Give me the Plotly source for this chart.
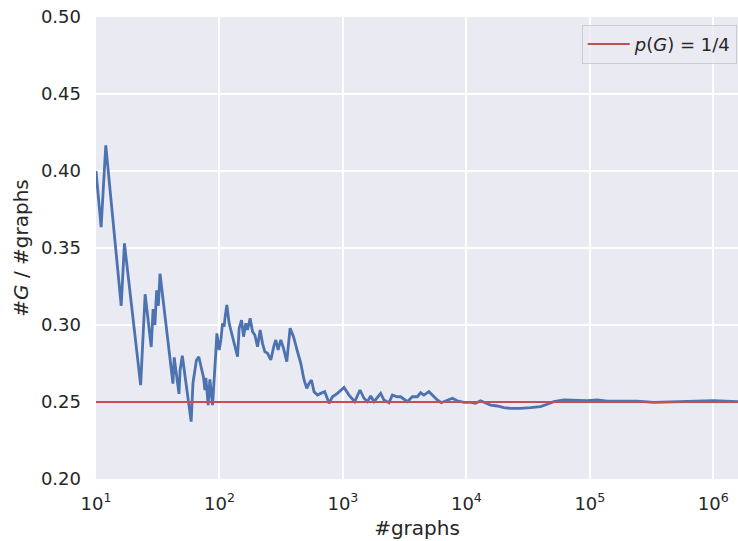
import plotly.graph_objects as go

# number of graphs sampled (x) and running fraction #G / #graphs (y)
n_graphs = [10, 11, 12, 16, 17, 23, 25, 28, 29, 30, 31, 32, 33, 42, 43, 47, 48, 50, 59, 61,
            65, 68, 74.3, 76.2, 77.6, 81.0, 83.6, 87.9, 93.5, 95.3, 99.4, 102.6, 105.9, 109.1,
            111.2, 114.8, 119.8, 125.3, 131.5, 140.1, 144.4, 150.9, 156.7, 163.5, 168.8, 177.2,
            185.3, 193.4, 203.4, 213.5, 223.2, 233.0, 245.1, 260.6, 277.1, 286.0, 298.5, 314.0,
            330.1, 351.0, 373.3, 397.8, 428.5, 455.7, 484.5, 509.5, 531.8, 556.1, 583.6, 622.0,
            661.4, 712.5, 772.0, 822.4, 902.8, 1020.7, 1120.3, 1246, 1375, 1482, 1579, 1679,
            1785, 2022, 2150, 2360, 2515, 2760, 2935, 3325, 3650, 4007, 4260, 4531, 4973, 5299,
            5815, 6267, 6787, 7690, 8440, 9546, 10815, 11870, 13030, 14300, 15700, 17780, 20110,
            22780, 27450, 33060, 39840, 45130, 51060, 61500, 78940, 95100, 114600, 138000,
            176900, 241400, 328900, 448800, 612600, 1000000, 1594000]
fraction_g = [0.4000, 0.3636, 0.4167, 0.3125, 0.3530, 0.2609, 0.3200, 0.2857, 0.3103, 0.3000,
              0.3226, 0.3125, 0.3333, 0.2619, 0.2790, 0.2553, 0.2708, 0.2800, 0.2373, 0.2623,
              0.2770, 0.2794, 0.2660, 0.2578, 0.2656, 0.2480, 0.2647, 0.2480, 0.2827, 0.2946,
              0.2838, 0.2903, 0.3011, 0.2989, 0.3054, 0.3130, 0.3011, 0.2946, 0.2870, 0.2794,
              0.2979, 0.3032, 0.2924, 0.3011, 0.2968, 0.3044, 0.2957, 0.2935, 0.2859, 0.2968,
              0.2881, 0.2827, 0.2816, 0.2773, 0.2870, 0.2903, 0.2838, 0.2903, 0.2849, 0.2762,
              0.2979, 0.2924, 0.2827, 0.2751, 0.2643, 0.2589, 0.2621, 0.2643, 0.2567, 0.2545,
              0.2556, 0.2567, 0.2492, 0.2534, 0.2556, 0.2595, 0.2545, 0.2502, 0.2578, 0.2524,
              0.2502, 0.2539, 0.2502, 0.2556, 0.2513, 0.2495, 0.2545, 0.2534, 0.2534, 0.2502,
              0.2534, 0.2534, 0.2560, 0.2545, 0.2567, 0.2545, 0.2513, 0.2495, 0.2508, 0.2524,
              0.2508, 0.2498, 0.2498, 0.2492, 0.2508, 0.2492, 0.2480, 0.2474, 0.2463, 0.2459,
              0.2458, 0.2463, 0.2470, 0.2485, 0.2502, 0.2513, 0.2508, 0.2508, 0.2513, 0.2506,
              0.2506, 0.2506, 0.2498, 0.2502, 0.2502, 0.2508, 0.2502]
p_target = 0.25

x_tickvals = [10, 100, 1000, 10000, 100000, 1000000]
x_ticktext = ["10<sup>1</sup>", "10<sup>2</sup>", "10<sup>3</sup>",
              "10<sup>4</sup>", "10<sup>5</sup>", "10<sup>6</sup>"]
y_tickvals = [0.20, 0.25, 0.30, 0.35, 0.40, 0.45, 0.50]

FONT = "DejaVu Sans"
TXT = "#262626"
TICK = 18
LABEL = 20

fig = go.Figure()
fig.add_trace(go.Scatter(
    x=n_graphs, y=fraction_g, mode="lines",
    line=dict(color="#4C72B0", width=2.8), showlegend=False, hoverinfo="skip"))
fig.add_trace(go.Scatter(
    x=[n_graphs[0], n_graphs[-1] * 2], y=[p_target, p_target], mode="lines",
    line=dict(color="#C44E52", width=2),
    name="<i>p</i>(<i>G</i>) = 1/4"))

fig.update_layout(
    width=738, height=541,
    margin=dict(l=96, r=0, t=17, b=62),
    paper_bgcolor="white", plot_bgcolor="#EAEAF2",
    font=dict(family=FONT, color=TXT, size=TICK),
    legend=dict(x=0.998, xanchor="right", y=0.983, yanchor="top", itemwidth=42,
                bgcolor="rgba(234,234,242,0.8)", bordercolor="#CCCCCC", borderwidth=1,
                font=dict(family=FONT, size=TICK, color=TXT)),
    showlegend=True,
)
fig.update_xaxes(
    type="log", range=[1.0, 6.2],
    tickvals=x_tickvals, ticktext=x_ticktext,
    showgrid=True, gridcolor="white", gridwidth=1.5,
    zeroline=False, showline=False, ticks="", ticklabelstandoff=12,
    tickfont=dict(family=FONT, size=TICK, color=TXT),
    title=dict(text="#graphs", font=dict(family=FONT, size=LABEL, color=TXT), standoff=7),
)
fig.update_yaxes(
    range=[0.2, 0.5], tickvals=y_tickvals, tickformat=".2f",
    showgrid=True, gridcolor="white", gridwidth=1.5,
    zeroline=False, showline=False, ticks="", ticklabelstandoff=14,
    tickfont=dict(family=FONT, size=TICK, color=TXT),
    title=dict(text="#<i>G</i> / #graphs", font=dict(family=FONT, size=LABEL, color=TXT), standoff=6),
)

fig.write_html("out.html", config={"displayModeBar": False},
               post_script="document.body.style.margin='0';")
